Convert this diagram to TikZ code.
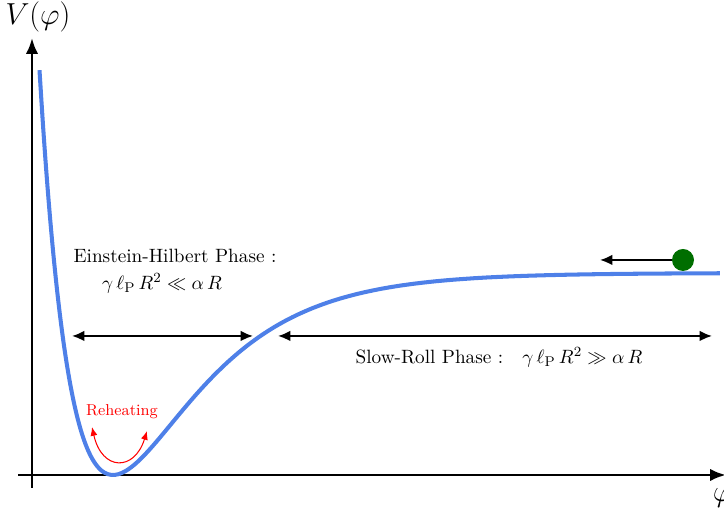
\documentclass[tikz,border=0pt,11pt]{standalone}
\usepackage{tikz}
\usetikzlibrary{arrows.meta, positioning}

\definecolor{potblue}{RGB}{78,128,232}
\definecolor{ballgreen}{RGB}{0,110,0}

\begin{document}
\begin{tikzpicture}[
    axis/.style={line width=1.6pt, -{Latex[length=9pt,width=7pt]}},
    phasearrow/.style={line width=1.1pt, {Latex[length=7pt,width=6pt]}-{Latex[length=7pt,width=6pt]}},
    potential/.style={line width=2.3pt, potblue}
  ]
  \useasboundingbox (-0.64,-0.76) rectangle (13.84,9.5);

  % axes
  \coordinate (xstart) at (-0.28,0);
  \coordinate (xend) at (13.88,0);
  \coordinate (ystart) at (0,-0.26);
  \coordinate (yend) at (0,8.74);
  \draw[axis] (xstart) -- (xend);
  \draw[axis] (ystart) -- (yend);
  \node (vlabel) at (0.12,9.16) {\LARGE $V(\varphi)$};
  \node (philabel) at (13.81,-0.46) {\LARGE $\varphi$};

  % potential
  \draw[potential, domain=0.15:13.76, samples=200, smooth]
    plot (\x, {4.04*(1-exp(-0.6*(\x-1.62)))^2});

  % phases
  \coordinate (ehleft) at (0.8,2.78);
  \coordinate (ehright) at (4.42,2.78);
  \coordinate (srleft) at (4.92,2.78);
  \coordinate (srright) at (13.6,2.78);
  \draw[phasearrow] (ehleft) -- (ehright);
  \draw[phasearrow] (srleft) -- (srright);

  \node (ehtitle) at (2.86,4.38) {Einstein-Hilbert Phase :};
  \node (ehcond) at (2.6,3.84) {$\gamma\,\ell_{\mathrm{P}}\,R^2 \ll \alpha\,R$};
  \node (srtitle) at (9.34,2.36) {Slow-Roll Phase :\quad $\gamma\,\ell_{\mathrm{P}}\,R^2 \gg \alpha\,R$};

  % reheating
  \node[red] (reheat) at (1.8,1.26) {\footnotesize Reheating};
  \coordinate (rhleft) at (1.2,0.96);
  \coordinate (rhright) at (2.3,0.88);
  \draw[red, line width=0.6pt, {Latex[length=5pt,width=4pt]}-{Latex[length=5pt,width=4pt]}]
    (rhleft) .. controls (1.4,0.07) and (2.05,0.07) .. (rhright);

  % rolling field
  \node[circle, fill=ballgreen, minimum size=0.44cm, inner sep=0pt] (ball) at (13.02,4.3) {};
  \coordinate (balltip) at (11.36,4.3);
  \draw[line width=1.1pt, -{Latex[length=7pt,width=6pt]}] (ball) -- (balltip);
\end{tikzpicture}
\end{document}
